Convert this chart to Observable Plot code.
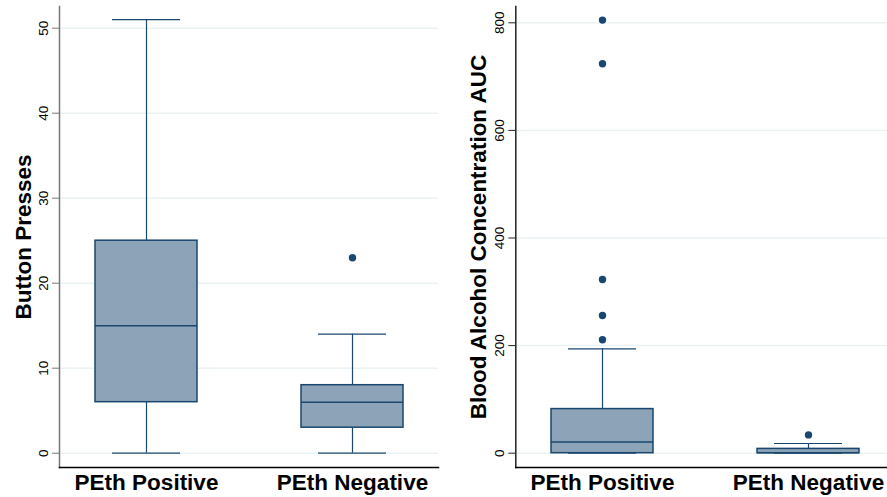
<!DOCTYPE html>
<html><head><meta charset="utf-8">
<script src="https://cdn.jsdelivr.net/npm/d3@7"></script>
<script src="https://cdn.jsdelivr.net/npm/@observablehq/plot@0.6"></script>
<style>body{margin:0;background:#fff}#wrap{display:flex;width:887px;height:497px;overflow:hidden}#wrap svg{flex:none}</style>
</head><body><div id="wrap"></div><script>
const groups = ["PEth Positive", "PEth Negative"];
// Button presses
const pressLow = [0, 0];
const pressQ1 = [6, 3];
const pressMedian = [15, 6];
const pressQ3 = [25, 8];
const pressHigh = [51, 14];
const pressOutlierGroup = ["PEth Negative"];
const pressOutliers = [23];
const pressTicks = [0, 10, 20, 30, 40, 50];
// Blood alcohol concentration AUC
const bacLow = [0, 0];
const bacQ1 = [0, 0];
const bacMedian = [21, 1];
const bacQ3 = [82, 8];
const bacHigh = [194, 18];
const bacOutlierGroup = ["PEth Positive", "PEth Positive", "PEth Positive", "PEth Positive", "PEth Positive", "PEth Negative"];
const bacOutliers = [211, 256, 323, 724, 805, 34];
const bacTicks = [0, 200, 400, 600, 800];

const NAVY = "#1a476f", FILL = "#8da3b7", GRID = "#eaf2f3";
const FONT = '"Liberation Sans", Arial, Helvetica, sans-serif';

function panel({width, marginLeft, marginRight, xRange, yDomain, yRange, ticks, low, q1, med, q3, high, outG, outV, label, labelOffset, axisColor}) {
  const stats = groups.map((g, i) => ({g, low: low[i], q1: q1[i], med: med[i], q3: q3[i], high: high[i]}));
  const outs = outV.map((v, i) => ({g: outG[i], v}));
  return Plot.plot({
    width, height: 497, marginLeft, marginRight, marginTop: 6, marginBottom: 30,
    style: {fontFamily: FONT, background: "#fff", overflow: "hidden"},
    x: {type: "band", domain: groups, range: xRange, paddingInner: 0.507, paddingOuter: 0.17},
    y: {domain: yDomain, range: yRange},
    marks: [
      Plot.gridY(ticks, {stroke: GRID, strokeOpacity: 1, strokeWidth: 1.5}),
      Plot.ruleX(stats, {x: "g", y1: "q3", y2: "high", stroke: NAVY, strokeWidth: 1.2}),
      Plot.ruleX(stats, {x: "g", y1: "low", y2: "q1", stroke: NAVY, strokeWidth: 1.2}),
      Plot.tickY(stats, {x: "g", y: "high", stroke: NAVY, strokeWidth: 1.2, insetLeft: 17, insetRight: 17}),
      Plot.tickY(stats, {x: "g", y: "low", stroke: NAVY, strokeWidth: 1.2, insetLeft: 17, insetRight: 17}),
      Plot.barY(stats, {x: "g", y1: "q1", y2: "q3", fill: FILL, stroke: NAVY, strokeWidth: 1.5}),
      Plot.tickY(stats, {x: "g", y: "med", stroke: NAVY, strokeWidth: 1.5}),
      Plot.dot(outs, {x: "g", y: "v", r: 3.7, fill: NAVY}),
      Plot.axisY(ticks, {tickSize: 7, tickRotate: -90, tickPadding: 5, fontSize: 13.5, stroke: axisColor, fill: "#000", label: null}),
      Plot.axisX({tickSize: 0, tickPadding: 7, fontSize: 22.5, fontWeight: "bold", fill: "#000", label: null}),
      Plot.frame({anchor: "left", stroke: axisColor, strokeWidth: 1.5}),
      Plot.frame({anchor: "bottom", stroke: "#000", strokeWidth: 1.5}),
      Plot.text([label], {frameAnchor: "left", rotate: -90, dx: -labelOffset, lineAnchor: "top", textAnchor: "middle", fontSize: 22.5, fontWeight: "bold", fill: "#000"})
    ]
  });
}

const wrap = document.getElementById("wrap");
wrap.append(panel({
  width: 440, marginLeft: 59, marginRight: 2, xRange: [59, 438],
  yDomain: [0, 50], yRange: [452.7, 27.7], ticks: pressTicks,
  low: pressLow, q1: pressQ1, med: pressMedian, q3: pressQ3, high: pressHigh,
  outG: pressOutlierGroup, outV: pressOutliers,
  label: "Button Presses", labelOffset: 44, axisColor: "#777"
}));
wrap.append(panel({
  width: 447, marginLeft: 75.3, marginRight: 0, xRange: [75.3, 454.3],
  yDomain: [0, 800], yRange: [452.7, 22.3], ticks: bacTicks,
  low: bacLow, q1: bacQ1, med: bacMedian, q3: bacQ3, high: bacHigh,
  outG: bacOutlierGroup, outV: bacOutliers,
  label: "Blood Alcohol Concentration AUC", labelOffset: 45.3, axisColor: "#222"
}));
</script></body></html>
